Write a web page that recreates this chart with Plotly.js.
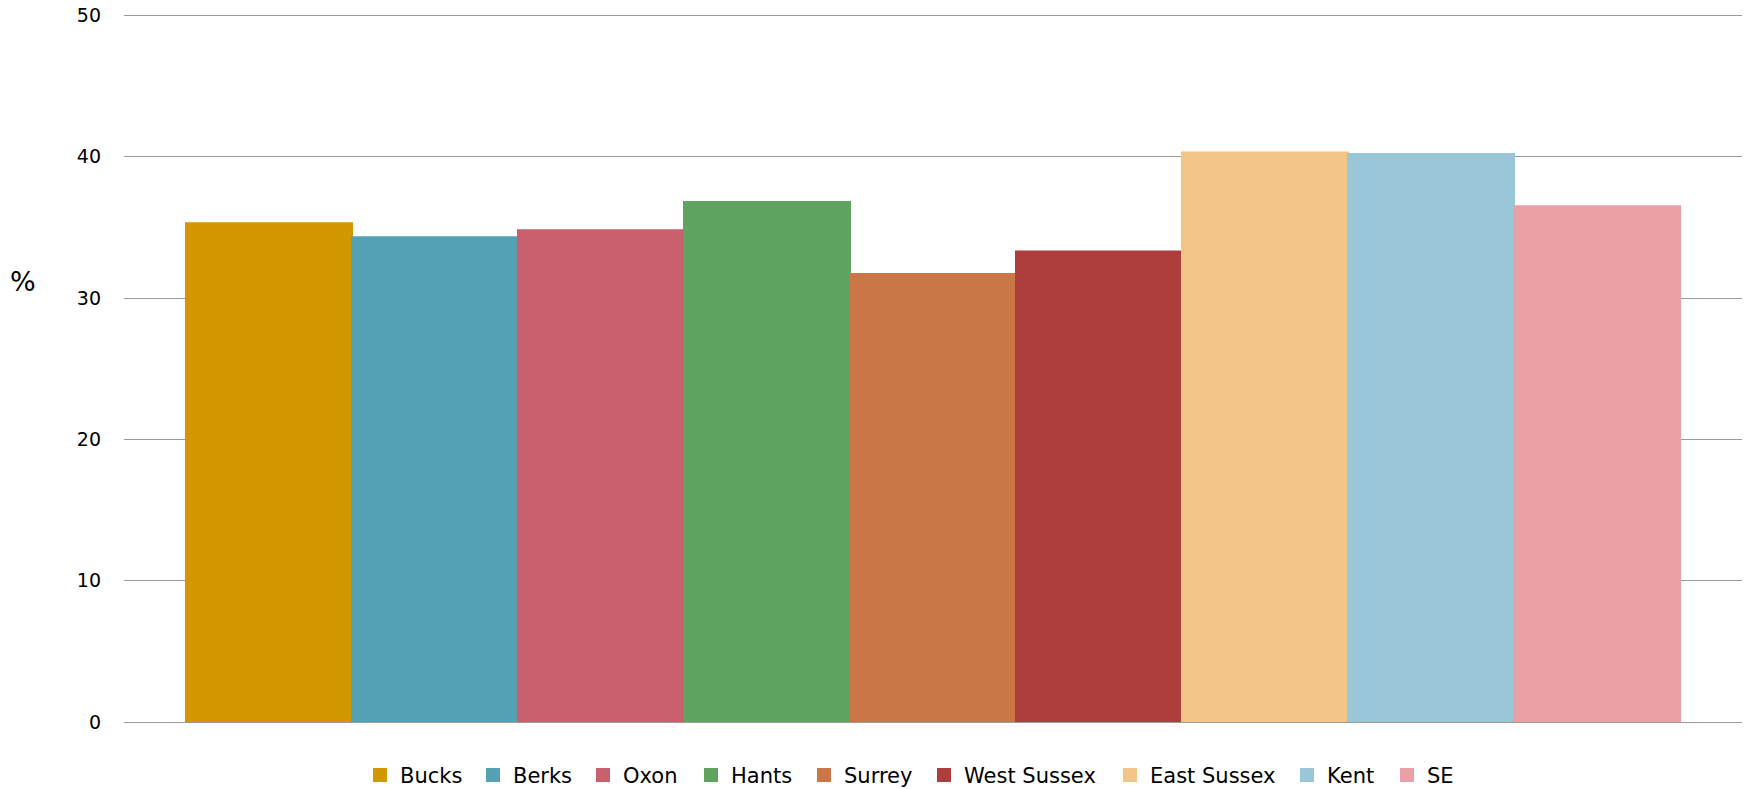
<!DOCTYPE html>
<html>
<head>
<meta charset="utf-8">
<script src="https://cdn.plot.ly/plotly-3.0.1.min.js"></script>
<style>html,body{margin:0;padding:0;background:#fff;}#chart{width:1746px;height:789px;}</style>
</head>
<body>
<div id="chart"></div>
<script>
const seriesNames = ["Bucks", "Berks", "Oxon", "Hants", "Surrey", "West Sussex", "East Sussex", "Kent", "SE"];
const seriesValues = [35.3, 34.3, 34.8, 36.8, 31.7, 33.3, 40.3, 40.2, 36.5];
const seriesColors = ["#D39800", "#55A1B5", "#CA5F6E", "#5EA460", "#CB7647", "#AE3E3E", "#F3C586", "#9AC7D7", "#EB9FA6"];
const category = [""];
const yTicks = [0, 10, 20, 30, 40, 50];

// layout only: left pixel of each legend entry box
const legendLeftPx = [360, 473, 583, 691, 804, 924, 1110, 1287, 1387];

const FONT = "DejaVu Sans, Open Sans, sans-serif";
const W = 1746, H = 789;

const traces = seriesNames.map((name, i) => ({
  type: "bar",
  name: name,
  x: category,
  y: [seriesValues[i]],
  legend: i === 0 ? "legend" : "legend" + (i + 1),
  marker: { color: seriesColors[i], line: { width: 2, color: seriesColors[i] } },
  hoverinfo: "name+y"
}));

const layout = {
  width: W,
  height: H,
  paper_bgcolor: "#ffffff",
  plot_bgcolor: "#ffffff",
  margin: { l: 124, r: 4, t: 14, b: 67 },
  barmode: "group",
  bargap: 0.0766,
  bargroupgap: 0,
  font: { family: FONT, color: "#000" },
  showlegend: true,
  xaxis: {
    type: "category",
    showticklabels: false,
    showgrid: false,
    zeroline: false,
    showline: false,
    ticks: ""
  },
  yaxis: {
    range: [0, 50.1],
    tickvals: yTicks,
    ticktext: yTicks.map(String),
    showgrid: true,
    gridcolor: "#9a9a9a",
    gridwidth: 1,
    zeroline: true,
    zerolinecolor: "#9a9a9a",
    zerolinewidth: 1,
    showline: false,
    ticks: "",
    ticklabelstandoff: 22,
    tickfont: { family: FONT, size: 19, color: "#000" }
  },
  annotations: [{
    text: "%",
    xref: "paper", yref: "paper",
    x: -0.0622, y: 0.622,
    xanchor: "center", yanchor: "middle",
    showarrow: false,
    font: { family: FONT, size: 27, color: "#000" }
  }]
};

legendLeftPx.forEach((px, i) => {
  const key = i === 0 ? "legend" : "legend" + (i + 1);
  layout[key] = {
    orientation: "h",
    xref: "container",
    yref: "container",
    x: px / W,
    xanchor: "left",
    y: 0.0174,
    yanchor: "middle",
    bgcolor: "rgba(0,0,0,0)",
    font: { family: FONT, size: 21, color: "#000" }
  };
});

Plotly.newPlot("chart", traces, layout, { displayModeBar: false, responsive: false });
</script>
</body>
</html>
